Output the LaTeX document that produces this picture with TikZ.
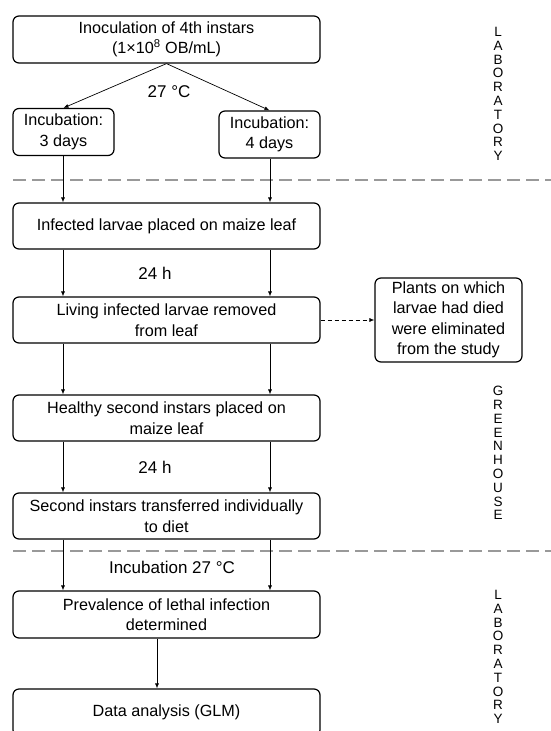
\documentclass[tikz,border=0pt]{standalone}
\usepackage{fontspec}
\setmainfont{Liberation Sans}
\usetikzlibrary{arrows.meta}
\begin{document}
\begin{tikzpicture}[x=1pt,y=-1pt,
  box/.style={draw,line width=1.2pt,rounded corners=6pt,align=center,inner sep=0pt,
    font=\fontsize{16.2}{20.5}\selectfont},
  wide/.style={box,minimum width=307pt,minimum height=46pt},
  arr/.style={-{Latex[length=5pt,width=4pt]},line width=0.7pt},
  sep/.style={draw=black!40,line width=1.6pt,dash pattern=on 13pt off 6pt},
  lbl/.style={font=\fontsize{17}{20}\selectfont,inner sep=0pt},
  vert/.style={align=center,inner sep=0pt,font=\fontsize{13.5}{13.8}\selectfont}]
\useasboundingbox (0,0) rectangle (551,731);
\clip (0,0) rectangle (551,731);
\coordinate (xl) at (63,0);
\coordinate (xr) at (270,0);
\coordinate (xm) at (157,0);
\node[box,minimum width=307pt,minimum height=47pt] (top) at (166.5,39.5) {Inoculation of 4th instars\\(1×10\textsuperscript{8} OB/mL)};
\node[box,minimum width=101pt,minimum height=47pt] (left) at (63.5,132) {Incubation:\\3 days};
\node[box,minimum width=101pt,minimum height=47pt] (right) at (269.5,134.5) {Incubation:\\4 days};
\node[wide] (b2) at (166.5,226) {Infected larvae placed on maize leaf};
\node[wide] (b3) at (166.5,320) {Living infected larvae removed\\from leaf};
\node[box,minimum width=147pt,minimum height=84pt] (side) at (448.5,320) {Plants on which\\larvae had died\\were eliminated\\from the study};
\node[wide] (b4) at (166.5,418) {Healthy second instars placed on\\maize leaf};
\node[wide] (b5) at (166.5,516) {Second instars transferred individually\\to diet};
\node[wide,minimum height=47pt] (b6) at (166.5,614.5) {Prevalence of lethal infection\\determined};
\node[wide,minimum height=47pt] (b7) at (166.5,712.5) {Data analysis (GLM)};
% labels
\node[lbl] (t1) at (169,92) {27 °C};
\node[lbl] (t2) at (155,273) {24 h};
\node[lbl] (t3) at (155,467) {24 h};
\node[lbl] (t4) at (172,567) {Incubation 27 °C};
% vertical words
\node[vert] (lab1) at (498,94) {L\\A\\B\\O\\R\\A\\T\\O\\R\\Y};
\node[vert] (gh) at (498,453) {G\\R\\E\\E\\N\\H\\O\\U\\S\\E};
\node[vert] (lab2) at (498,657) {L\\A\\B\\O\\R\\A\\T\\O\\R\\Y};
% separators
\coordinate (s1a) at (13,180); \coordinate (s1b) at (551,180);
\coordinate (s2a) at (13,551); \coordinate (s2b) at (551,551);
\draw[sep] (s1a) -- (s1b);
\draw[sep] (s2a) -- (s2b);
% connectors
\draw[arr] (top.south) -- (left.north);
\draw[arr] (top.south) -- (right.north);
\foreach \a/\b in {left/b2,b2/b3,b3/b4,b4/b5,b5/b6}{
  \draw[arr] (xl |- \a.south) -- (xl |- \b.north);
}
\draw[arr] (xr |- right.south) -- (xr |- b2.north);
\foreach \a/\b in {b2/b3,b3/b4,b4/b5,b5/b6}{
  \draw[arr] (xr |- \a.south) -- (xr |- \b.north);
}
\draw[arr] (xm |- b6.south) -- (xm |- b7.north);
\draw[arr,dash pattern=on 4pt off 3pt] (b3.east) -- (side.west);
\end{tikzpicture}
\end{document}
